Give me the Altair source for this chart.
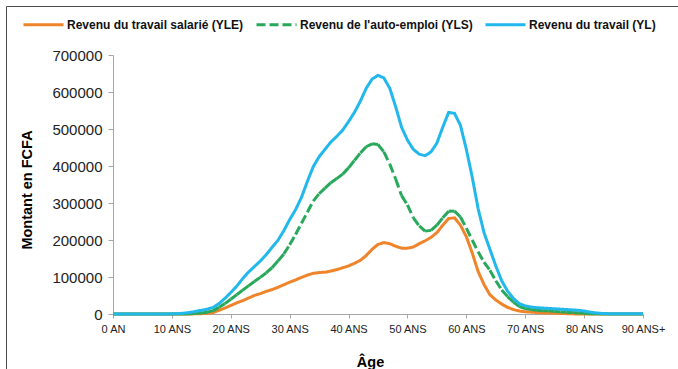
import altair as alt
import pandas as pd

ages = list(range(91))

yle = [0, 0, 0, 0, 0, 0, 0, 0, 0, 0,
       0, 0, 0, 0, 500, 1000, 1500, 4000, 10000, 16000,
       23000, 30000, 36000, 43000, 50000, 55000, 61000, 66000, 72000, 79000,
       86000, 92000, 99000, 105000, 110000, 112000, 113000, 116000, 120000, 125000,
       130000, 137000, 145000, 158000, 175000, 188000, 193000, 190000, 183000, 178000,
       178000, 181000, 190000, 198000, 207000, 220000, 240000, 258000, 260000, 240000,
       209000, 165000, 115000, 80000, 52000, 38000, 27000, 18000, 12000, 8000,
       6000, 5000, 4000, 3000, 2500, 2000, 1500, 1000, 500, 0,
       0, 0, 0, 0, 0, 0, 0, 0, 0, 0, 0]

yls = [0, 0, 0, 0, 0, 0, 0, 0, 0, 0,
       0, 0, 0, 1000, 2000, 3000, 5000, 9000, 18000, 28000,
       40000, 52000, 64000, 76000, 88000, 99000, 111000, 125000, 143000, 162000,
       187000, 215000, 245000, 275000, 305000, 325000, 340000, 355000, 366000, 378000,
       395000, 415000, 435000, 452000, 460000, 458000, 438000, 405000, 365000, 320000,
       295000, 260000, 238000, 224000, 226000, 240000, 260000, 278000, 278000, 262000,
       232000, 200000, 168000, 140000, 118000, 90000, 65000, 47000, 32000, 20000,
       15000, 12000, 10000, 9000, 8500, 7000, 6000, 5000, 4000, 3000,
       2000, 1000, 500, 0, 0, 0, 0, 0, 0, 0, 0]

yl = [0, 0, 0, 0, 0, 0, 0, 0, 0, 0,
      500, 1000, 2000, 4000, 7000, 10000, 13000, 18000, 28000, 42000,
      58000, 75000, 95000, 113000, 128000, 143000, 160000, 180000, 199000, 225000,
      255000, 282000, 315000, 358000, 398000, 425000, 445000, 465000, 480000, 497000,
      520000, 545000, 575000, 610000, 635000, 645000, 638000, 610000, 560000, 505000,
      470000, 445000, 432000, 428000, 438000, 462000, 505000, 545000, 542000, 510000,
      445000, 370000, 285000, 220000, 175000, 130000, 90000, 62000, 42000, 28000,
      22000, 19000, 17000, 16000, 15000, 14000, 13000, 12000, 11000, 10000,
      8000, 5000, 3000, 1500, 1000, 500, 500, 500, 500, 500, 500]

series_names = ["Revenu du travail salarié (YLE)",
                "Revenu de l'auto-emploi (YLS)",
                "Revenu du travail (YL)"]
series_colors = ["#F0842A", "#27A85A", "#22B8EC"]
series_dash = [[1, 0], [9, 4], [1, 0]]

tick_values = [0, 10, 20, 30, 40, 50, 60, 70, 80, 90]

df_yle = pd.DataFrame({"age": ages, "valeur": yle, "serie": series_names[0], "seg": 0})
df_yl = pd.DataFrame({"age": ages, "valeur": yl, "serie": series_names[2], "seg": 0})

# Self-employment series: one piece per interval so the dash restarts at every point
seg_rows = []
for i in range(len(ages) - 1):
    for j in (i, i + 1):
        seg_rows.append({"age": ages[j], "valeur": yls[j], "serie": series_names[1], "seg": i})
df_yls = pd.DataFrame(seg_rows)

FONT = "Liberation Sans"

color_enc = alt.Color("serie:N",
                      scale=alt.Scale(domain=series_names, range=series_colors),
                      legend=alt.Legend(title=None))
dash_enc = alt.StrokeDash("serie:N",
                          scale=alt.Scale(domain=series_names, range=series_dash),
                          legend=alt.Legend(title=None))

x_enc = alt.X("age:Q",
              scale=alt.Scale(domain=[0, 90], nice=False, zero=True),
              axis=alt.Axis(values=tick_values, labelOverlap=False, labelFlush=False,
                            labelExpr="datum.value == 0 ? '0 AN' : (datum.value == 90 ? '90 ANS+' : datum.value + ' ANS')",
                            title="Âge", titleX=257, titleY=52,
                            titleAlign="center", titleBaseline="alphabetic",
                            labelFontSize=11, labelPadding=5, tickSize=4,
                            titleFontSize=14.5, titleFontWeight="bold"))
y_enc = alt.Y("valeur:Q",
              scale=alt.Scale(domain=[0, 700000], nice=False),
              axis=alt.Axis(values=[0, 100000, 200000, 300000, 400000, 500000, 600000, 700000],
                            format="d", title="Montant en FCFA", labelOverlap=False,
                            titleX=-86, titleY=134.5, titleAngle=-90,
                            titleAlign="center", titleBaseline="middle",
                            labelFontSize=15, labelPadding=6, tickSize=5,
                            titleFontSize=14.5, titleFontWeight="bold"))

line_yle = alt.Chart(df_yle).mark_line(strokeWidth=3, strokeCap="butt").encode(
    x=x_enc, y=y_enc, color=color_enc, strokeDash=dash_enc, detail="seg:N")
line_yls = alt.Chart(df_yls).mark_line(strokeWidth=3, strokeCap="butt").encode(
    x=x_enc, y=y_enc, color=color_enc, strokeDash=dash_enc, detail="seg:N")
line_yl = alt.Chart(df_yl).mark_line(strokeWidth=3, strokeCap="butt").encode(
    x=x_enc, y=y_enc, color=color_enc, strokeDash=dash_enc, detail="seg:N")

frame_data = alt.Data(values=[{"k": 1}])
frame_left = alt.Chart(frame_data).mark_rule(color="#4d4d4d", strokeWidth=1).encode(
    x=alt.value(-106.5), y=alt.value(-48.5), y2=alt.value(320))
frame_top = alt.Chart(frame_data).mark_rule(color="#4d4d4d", strokeWidth=1).encode(
    x=alt.value(-106.5), x2=alt.value(570), y=alt.value(-48.5))

chart = alt.layer(line_yle, line_yls, line_yl, frame_left, frame_top).properties(
    width=530, height=259,
    autosize=alt.AutoSizeParams(type="none"),
    padding={"left": 113, "top": 55, "right": 35, "bottom": 55},
    background="white",
).configure_view(stroke=None).configure_axis(
    grid=False, labelFont=FONT, titleFont=FONT, labelColor="#222222", titleColor="#000000",
    domainColor="#A6A6A6", tickColor="#A6A6A6", domainWidth=1,
).configure_legend(
    orient="none", legendX=-91, legendY=-52, direction="horizontal",
    symbolType="stroke", symbolSize=1600, symbolStrokeWidth=3,
    labelFont=FONT, labelFontSize=12, labelFontWeight="bold", labelColor="#111111",
    labelOffset=2, columnPadding=6, padding=0, labelLimit=400,
)

chart.save("out.html", embed_options={"renderer": "svg", "actions": False})
